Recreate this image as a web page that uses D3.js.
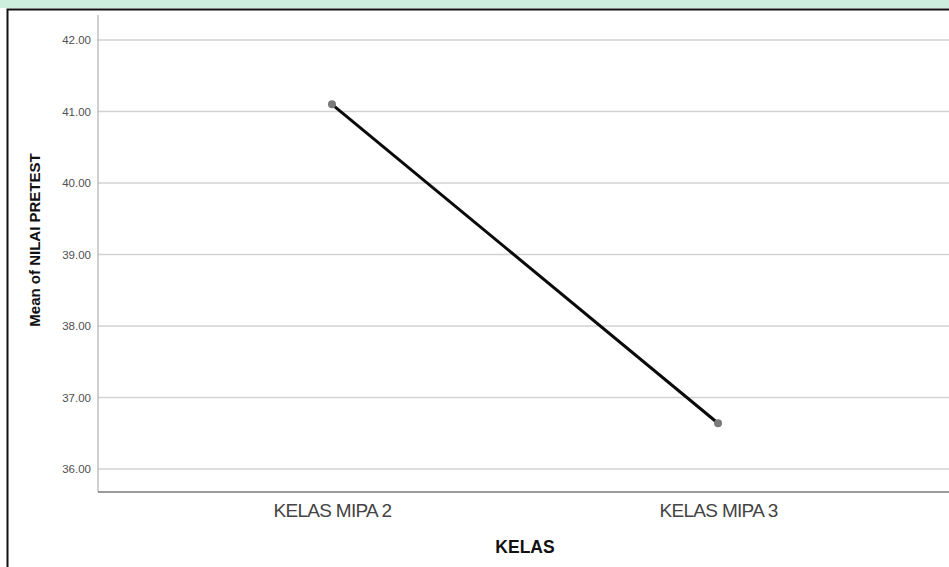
<!DOCTYPE html>
<html><head><meta charset="utf-8">
<script src="https://cdn.jsdelivr.net/npm/d3@7/dist/d3.min.js"></script>
<style>html,body{margin:0;padding:0;background:#fff;overflow:hidden}</style>
</head><body>
<svg id="c" width="949" height="567"></svg>
<script>
const categories = ["KELAS MIPA 2", "KELAS MIPA 3"];
const values = [41.10, 36.64];
const yTicks = [36, 37, 38, 39, 40, 41, 42];
const yTitle = "Mean of NILAI PRETEST";
const xTitle = "KELAS";

const svg = d3.select("#c");
// watermark band at top + outer frame
svg.append("rect").attr("x",0).attr("y",0).attr("width",949).attr("height",8).attr("fill","#cdeedd");
svg.append("path").attr("d","M7.5,580 L7.5,9.5 L960,9.5").attr("fill","none").attr("stroke","#111").attr("stroke-width",2);

const L = 98, R = 952, T = 15, B = 492;
const y = d3.scaleLinear().domain([35.678, 42.35]).range([B, T]);
const x = d3.scalePoint().domain(categories).range([L, R]).padding(0.606);

// gridlines
svg.append("g").selectAll("line").data(yTicks).join("line")
  .attr("x1", L).attr("x2", 949).attr("y1", d => y(d)).attr("y2", d => y(d))
  .attr("stroke", "#d2d2d2").attr("stroke-width", 1.5);

// y axis
const ya = svg.append("g").attr("transform", `translate(${L},0)`)
  .call(d3.axisLeft(y).tickValues(yTicks).tickFormat(d3.format(".2f")).tickSize(0).tickPadding(7));
ya.select(".domain").remove();
ya.selectAll("text").attr("font-family","Liberation Sans, Arial, sans-serif").attr("font-size","11.5px").attr("fill","#505050");
svg.append("line").attr("x1",L).attr("x2",L).attr("y1",T).attr("y2",B).attr("stroke","#a0a0a0").attr("stroke-width",1);

// x axis
const xa = svg.append("g").attr("transform", `translate(0,${B})`)
  .call(d3.axisBottom(x).tickSize(0).tickPadding(12));
xa.select(".domain").remove();
xa.selectAll("text").attr("font-family","Liberation Sans, Arial, sans-serif").attr("font-size","19px")
  .attr("letter-spacing","-0.7px").attr("fill","#444");
svg.append("line").attr("x1",L).attr("x2",949).attr("y1",B).attr("y2",B).attr("stroke","#7a7a7a").attr("stroke-width",1.5);

// line + markers
const pts = categories.map((c,i) => ({c, v: values[i]}));
svg.append("path").datum(pts)
  .attr("d", d3.line().x(d => x(d.c)).y(d => y(d.v)))
  .attr("fill","none").attr("stroke","#0a0a0a").attr("stroke-width",3);
svg.append("g").selectAll("circle").data(pts).join("circle")
  .attr("cx", d => x(d.c)).attr("cy", d => y(d.v)).attr("r", 4)
  .attr("fill","#7a7a7a");

// titles
svg.append("text").attr("x", (L+R)/2).attr("y", 553).attr("text-anchor","middle")
  .attr("font-family","Liberation Sans, Arial, sans-serif").attr("font-weight","bold").attr("font-size","17.5px")
  .attr("fill","#111").text(xTitle);
svg.append("text").attr("transform","translate(40,240) rotate(-90)").attr("text-anchor","middle")
  .attr("font-family","Liberation Sans, Arial, sans-serif").attr("font-weight","bold").attr("font-size","15px")
  .attr("fill","#111").text(yTitle);
</script>
</body></html>
